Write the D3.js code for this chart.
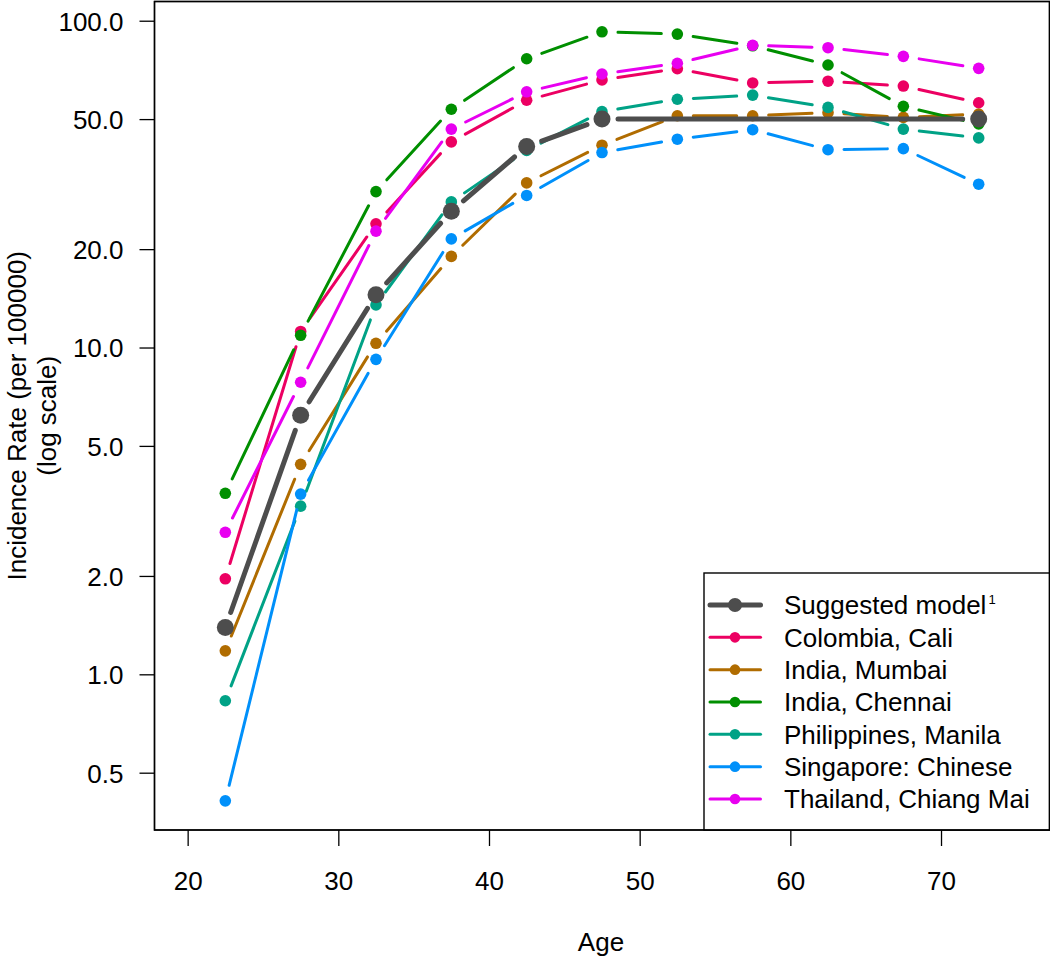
<!DOCTYPE html>
<html>
<head>
<meta charset="utf-8">
<script src="https://cdn.jsdelivr.net/npm/d3@7"></script>
<style>
  html, body { margin: 0; padding: 0; background: #ffffff; }
  svg { display: block; font-family: "Liberation Sans", Arial, Helvetica, sans-serif; }
</style>
</head>
<body>
<svg id="chart" width="1050" height="959"></svg>
<script>
// ---------------- data ----------------
const ages = [22.5, 27.5, 32.5, 37.5, 42.5, 47.5, 52.5, 57.5, 62.5, 67.5, 72.5];
const modelAges = [22.5, 27.5, 32.5, 37.5, 42.5, 47.5, 72.5];
const modelRates = [1.39, 6.2, 14.5, 26.1, 41.2, 50, 50];
const caliRates = [1.96, 11.2, 23.9, 42.6, 57.1, 65.9, 71.3, 64.5, 65.3, 63.1, 56.1];
const mumbaiRates = [1.18, 4.39, 10.3, 19.0, 31.9, 41.6, 51.2, 51.2, 52.3, 50.6, 51.8];
const chennaiRates = [3.58, 10.9, 30.0, 53.6, 76.5, 92.5, 91.0, 83.8, 73.2, 54.7, 48.3];
const manilaRates = [0.83, 3.27, 13.5, 27.9, 40.1, 52.7, 57.5, 59.2, 54.3, 46.6, 43.8];
const singaporeRates = [0.41, 3.56, 9.2, 21.5, 29.2, 39.5, 43.4, 46.4, 40.3, 40.6, 31.6];
const chiangMaiRates = [2.72, 7.83, 22.7, 46.6, 60.6, 68.7, 74.1, 84.1, 82.7, 77.8, 71.5];

const seriesNames = ["Colombia, Cali", "India, Mumbai", "India, Chennai",
                     "Philippines, Manila", "Singapore: Chinese", "Thailand, Chiang Mai"];
const seriesValues = [caliRates, mumbaiRates, chennaiRates, manilaRates, singaporeRates, chiangMaiRates];
const seriesColors = ["#EC0062", "#B06C00", "#008F00", "#00A286", "#0090FA", "#E800F0"];
const modelName = "Suggested model";
const modelColor = "#4D4D4D";

const xTicks = [20, 30, 40, 50, 60, 70];
const yTicks = [0.5, 1, 2, 5, 10, 20, 50, 100];
const xLabel = "Age";
const yLabel1 = "Incidence Rate (per 100000)";
const yLabel2 = "(log scale)";

// ---------------- layout ----------------
const L = 154.5, R = 1049.5, T = 1.5, B = 830;
const FONT = 26;
const GAP = 16;

const svg = d3.select("#chart");
const x = d3.scaleLinear().domain([17.8, 77.2]).range([L, R]);
const y = d3.scaleLog().domain([0.3339, 114.5]).range([B, T]);

// axes
const xAxis = svg.append("g").attr("transform", `translate(0,${B})`)
  .call(d3.axisBottom(x).tickValues(xTicks).tickSize(16).tickFormat(d3.format("d")));
xAxis.select(".domain").remove();
xAxis.selectAll(".tick line").attr("stroke", "#000").attr("stroke-width", 1.3);
xAxis.selectAll(".tick text").attr("y", 60).attr("dy", null)
  .attr("font-size", FONT).attr("fill", "#000").attr("font-family", null);

const yAxis = svg.append("g").attr("transform", `translate(${L},0)`)
  .call(d3.axisLeft(y).tickValues(yTicks).tickSize(15).tickPadding(16).tickFormat(d3.format(".1f")));
yAxis.select(".domain").remove();
yAxis.selectAll(".tick line").attr("stroke", "#000").attr("stroke-width", 1.3);
yAxis.selectAll(".tick text").attr("dy", "0.36em")
  .attr("font-size", FONT).attr("fill", "#000").attr("font-family", null);

// axis titles
svg.append("text").attr("x", 601).attr("y", 951).attr("text-anchor", "middle")
  .attr("font-size", FONT).text(xLabel);
const yt = svg.append("g").attr("transform", `translate(0,${(T + B) / 2}) rotate(-90)`);
yt.append("text").attr("x", 0).attr("y", 26).attr("text-anchor", "middle")
  .attr("font-size", FONT).text(yLabel1);
yt.append("text").attr("x", 0).attr("y", 56).attr("text-anchor", "middle")
  .attr("font-size", FONT).text(yLabel2);

// ---------------- series (type = "b": lines with gaps at points) ----------------
function drawSeries(xs, vs, color, lw, r) {
  const pts = xs.map((a, i) => [x(a), y(vs[i])]);
  const g = svg.append("g");
  for (let i = 0; i < pts.length - 1; i++) {
    const [x1, y1] = pts[i], [x2, y2] = pts[i + 1];
    const dx = x2 - x1, dy = y2 - y1, len = Math.hypot(dx, dy);
    if (len <= 2 * GAP) continue;
    const ux = dx / len, uy = dy / len;
    g.append("line")
      .attr("x1", x1 + ux * GAP).attr("y1", y1 + uy * GAP)
      .attr("x2", x2 - ux * GAP).attr("y2", y2 - uy * GAP)
      .attr("stroke", color).attr("stroke-width", lw).attr("stroke-linecap", "round");
  }
  g.selectAll("circle").data(pts).enter().append("circle")
    .attr("cx", d => d[0]).attr("cy", d => d[1]).attr("r", r).attr("fill", color);
}

seriesValues.forEach((vals, i) => drawSeries(ages, vals, seriesColors[i], 3, 5.8));
drawSeries(modelAges, modelRates, modelColor, 5, 8.5);

// plot box
svg.append("rect").attr("x", L).attr("y", T).attr("width", R - L).attr("height", B - T)
  .attr("fill", "none").attr("stroke", "#000").attr("stroke-width", 1.4);

// ---------------- legend ----------------
const lg = svg.append("g");
lg.append("rect").attr("x", 704).attr("y", 573).attr("width", R - 704).attr("height", B - 573)
  .attr("fill", "#fff").attr("stroke", "#000").attr("stroke-width", 1.4);
const legendItems = [{name: modelName, color: modelColor, lw: 5, r: 7, sup: "1"}]
  .concat(seriesNames.map((n, i) => ({name: n, color: seriesColors[i], lw: 3, r: 5.3})));
legendItems.forEach((it, i) => {
  const cy = 605 + i * 32.33;
  lg.append("line").attr("x1", 710).attr("x2", 760.5).attr("y1", cy).attr("y2", cy)
    .attr("stroke", it.color).attr("stroke-width", it.lw).attr("stroke-linecap", "round");
  lg.append("circle").attr("cx", 735).attr("cy", cy).attr("r", it.r).attr("fill", it.color);
  const t = lg.append("text").attr("x", 784).attr("y", cy + 9.3).attr("font-size", FONT).text(it.name);
  if (it.sup) {
    t.append("tspan").attr("font-size", 13).attr("dx", 2).attr("dy", -10).text(it.sup);
  }
});

// re-draw plot box edges on top of legend
svg.append("rect").attr("x", L).attr("y", T).attr("width", R - L).attr("height", B - T)
  .attr("fill", "none").attr("stroke", "#000").attr("stroke-width", 1.4);
</script>
</body>
</html>
